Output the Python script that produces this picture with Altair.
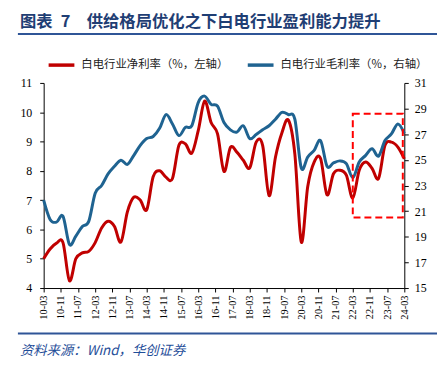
import json
import altair as alt
import pandas as pd

# ---------------- data ----------------
name_net = "白电行业净利率（%，左轴）"
name_gross = "白电行业毛利率（%，右轴）"

# quarterly values, 2010-03 ... 2024-03 (57 quarters)
net_margin = [5.0, 5.33, 5.53, 5.55, 4.25, 5.0, 5.2, 5.25, 5.55, 6.05,
              6.28, 6.1, 5.57, 6.6, 7.1, 7.0, 6.67, 7.8, 8.0, 7.78,
              7.74, 8.87, 8.92, 8.6, 9.37, 10.38, 9.65, 9.26, 7.98, 8.8,
              8.64, 8.36, 8.1, 8.98, 8.87, 7.15, 8.47, 9.3, 9.73, 8.58,
              5.57, 7.46, 8.3, 8.42, 7.18, 7.9, 8.02, 7.85, 7.07, 8.02,
              8.3, 8.08, 7.74, 8.87, 8.98, 8.81, 8.41]
gross_margin = [21.86, 20.35, 20.14, 20.6, 18.4, 19.05, 19.8, 20.2, 22.4, 23.0,
                23.9, 24.5, 24.97, 24.65, 25.35, 26.13, 26.66, 26.82, 27.46, 28.53,
                27.8, 26.89, 27.53, 27.66, 29.47, 29.97, 29.33, 29.19, 27.91, 27.34,
                27.16, 27.66, 26.66, 26.98, 27.34, 27.66, 28.17, 28.71, 28.53, 28.17,
                24.37, 25.22, 25.74, 26.5, 24.5, 24.76, 24.92, 24.71, 23.62, 24.83,
                25.35, 25.86, 25.29, 26.5, 27.02, 27.8, 27.07]

tick_labels = ["10-03", "10-11", "11-07", "12-03", "12-11", "13-07", "14-03", "14-11",
               "15-07", "16-03", "16-11", "17-07", "18-03", "18-11", "19-07", "20-03",
               "20-11", "21-07", "22-03", "22-11", "23-07", "24-03"]
left_ticks = [4, 5, 6, 7, 8, 9, 10, 11]
right_ticks = [15, 17, 19, 21, 23, 25, 27, 29, 31]

# highlight box (22-03 .. 24-03, right-axis units)
box_x = [144, 167.3]
box_y = [20.5, 28.6]

title_text = "图表\u20027\u3000供给格局优化之下白电行业盈利能力提升"
source_text = "资料来源：Wind，华创证券"

# ---------------- frames ----------------
months = [3 * i for i in range(len(net_margin))]  # months since 2010-03
df_net = pd.DataFrame({"m": months, "v": net_margin, "s": name_net})
df_gross = pd.DataFrame({"m": months, "v": gross_margin, "s": name_gross})
df_box = pd.DataFrame({"x1": [box_x[0]], "x2": [box_x[1]], "y1": [box_y[0]], "y2": [box_y[1]]})

RED = "#C00000"
BLUE = "#1F6391"
NAVY = "#1F3E74"
SERIF = "Liberation Serif"
CJK = "Noto Sans CJK SC"

label_expr = json.dumps(tick_labels) + "[round(datum.value/8)]"
x_scale = alt.Scale(domain=[0, 168], nice=False, zero=False, padding=0)
x_axis = alt.Axis(values=[8 * i for i in range(len(tick_labels))], labelExpr=label_expr,
                  labelAngle=-90, labelFont=SERIF, labelFontSize=10.5, labelColor="black",
                  tickSize=4, labelPadding=3, grid=False, title=None,
                  domainColor="black", tickColor="black")

color = alt.Color("s:N",
                  scale=alt.Scale(domain=[name_net, name_gross], range=[RED, BLUE]),
                  legend=alt.Legend(orient="none", legendX=3, legendY=-33, direction="horizontal",
                                    title=None, symbolType="stroke", symbolStrokeWidth=3.5,
                                    symbolSize=676, labelFont=CJK, labelFontSize=11.5,
                                    labelColor="#222", labelLimit=400, columnPadding=12,
                                    labelOffset=5, padding=0))

net_line = alt.Chart(df_net).mark_line(strokeWidth=3, interpolate="cardinal").encode(
    x=alt.X("m:Q", scale=x_scale, axis=x_axis),
    y=alt.Y("v:Q", scale=alt.Scale(domain=[4, 11], nice=False, zero=False),
            axis=alt.Axis(values=left_ticks, orient="left", labelFont=SERIF, labelFontSize=12,
                          labelColor="black", tickSize=4, labelPadding=8, grid=False,
                          title=None, domainColor="black", tickColor="black")),
    color=color,
)

right_scale = alt.Scale(domain=[15, 31], nice=False, zero=False)
right_axis = alt.Axis(values=right_ticks, orient="right", labelFont=SERIF, labelFontSize=12,
                      labelColor="black", tickSize=4, labelPadding=6, grid=False,
                      title=None, domainColor="black", tickColor="black")

gross_line = alt.Chart(df_gross).mark_line(strokeWidth=3, interpolate="cardinal").encode(
    x=alt.X("m:Q", scale=x_scale, axis=x_axis),
    y=alt.Y("v:Q", scale=right_scale, axis=right_axis),
    color=color,
)

box = alt.Chart(df_box).mark_rect(fill=None, fillOpacity=0, stroke="#FF0000", strokeWidth=2,
                                  strokeDash=[7, 4]).encode(
    x=alt.X("x1:Q", scale=x_scale, axis=x_axis),
    x2="x2",
    y=alt.Y("y1:Q", scale=right_scale, axis=right_axis),
    y2="y2",
)

right_layer = alt.layer(gross_line, box)

title = alt.Chart(pd.DataFrame({"t": [title_text]})).mark_text(
    align="left", baseline="middle", font=CJK, fontSize=16.5, fontWeight="bold", color=NAVY
).encode(text="t:N", x=alt.value(-24), y=alt.value(-61))

source = alt.Chart(pd.DataFrame({"t": [source_text]})).mark_text(
    align="left", baseline="middle", font=CJK, fontSize=13.5, fontStyle="italic", color="#1F4E99"
).encode(text="t:N", x=alt.value(-24), y=alt.value(271))

top_rule = alt.Chart(pd.DataFrame({"a": [0]})).mark_rule(color="#2F5597", strokeWidth=2).encode(
    x=alt.value(-26), x2=alt.value(397), y=alt.value(-49.5))
bottom_rule = alt.Chart(pd.DataFrame({"a": [0]})).mark_rule(color="#2F5597", strokeWidth=2).encode(
    x=alt.value(-26), x2=alt.value(397), y=alt.value(253))

chart = alt.layer(net_line, right_layer, title, source, top_rule, bottom_rule).resolve_scale(
    y="independent"
).properties(
    width=364, height=207,
    autosize=alt.AutoSizeParams(type="none"),
    padding={"left": 36, "top": 74, "right": 33, "bottom": 70},
    background="white",
).configure_view(stroke=None)

chart.save("out.html", embed_options={"renderer": "svg", "actions": False})
